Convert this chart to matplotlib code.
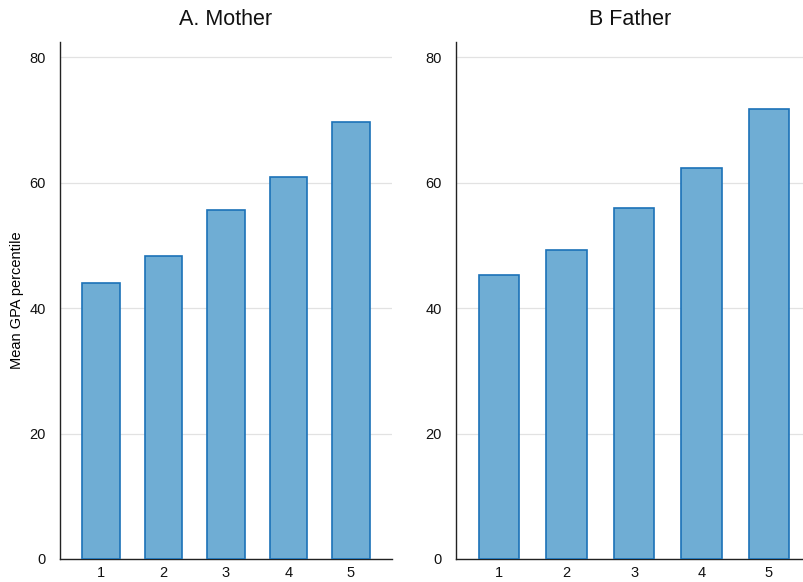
import matplotlib
matplotlib.use("Agg")
import matplotlib.pyplot as plt

plt.rcParams['font.family'] = ['Liberation Sans', 'DejaVu Sans']

categories = [1, 2, 3, 4, 5]
mother = [44.0, 48.3, 55.6, 60.9, 69.6]
father = [45.3, 49.2, 55.9, 62.3, 71.7]
yticks = [0, 20, 40, 60, 80]

fill = '#6fadd4'
edge = '#1b72b8'

fig = plt.figure(figsize=(8.04, 5.82), dpi=100)
W, H = 804, 582
ax1 = fig.add_axes([60 / W, 23 / H, 332 / W, 517 / H])
ax2 = fig.add_axes([456 / W, 23 / H, 348 / W, 517 / H])

panels = [(ax1, mother, 'A. Mother', (0.344, 5.656)),
          (ax2, father, 'B Father', (0.36, 5.52))]

for ax, vals, title, xl in panels:
    ax.bar(categories, vals, width=0.6, color=fill, edgecolor=edge,
           linewidth=1.2, zorder=3)
    ax.set_xlim(*xl)
    ax.set_ylim(0, 82.4)
    ax.set_yticks(yticks)
    ax.set_xticks(categories)
    ax.grid(axis='y', color='#e2e2e2', linewidth=0.9, zorder=0)
    for s in ['top', 'right']:
        ax.spines[s].set_visible(False)
    for s in ['left', 'bottom']:
        ax.spines[s].set_color('#222222')
        ax.spines[s].set_linewidth(1.0)
    ax.tick_params(axis='both', length=0, labelsize=10.5, colors='#111111')
    ax.tick_params(axis='y', pad=10)
    ax.tick_params(axis='x', pad=5)
    ax.set_title(title, fontsize=15.5, pad=12, color='#111111')

ax1.set_ylabel('Mean GPA percentile', fontsize=10.5, labelpad=4)

fig.savefig('out.png', dpi=100)
